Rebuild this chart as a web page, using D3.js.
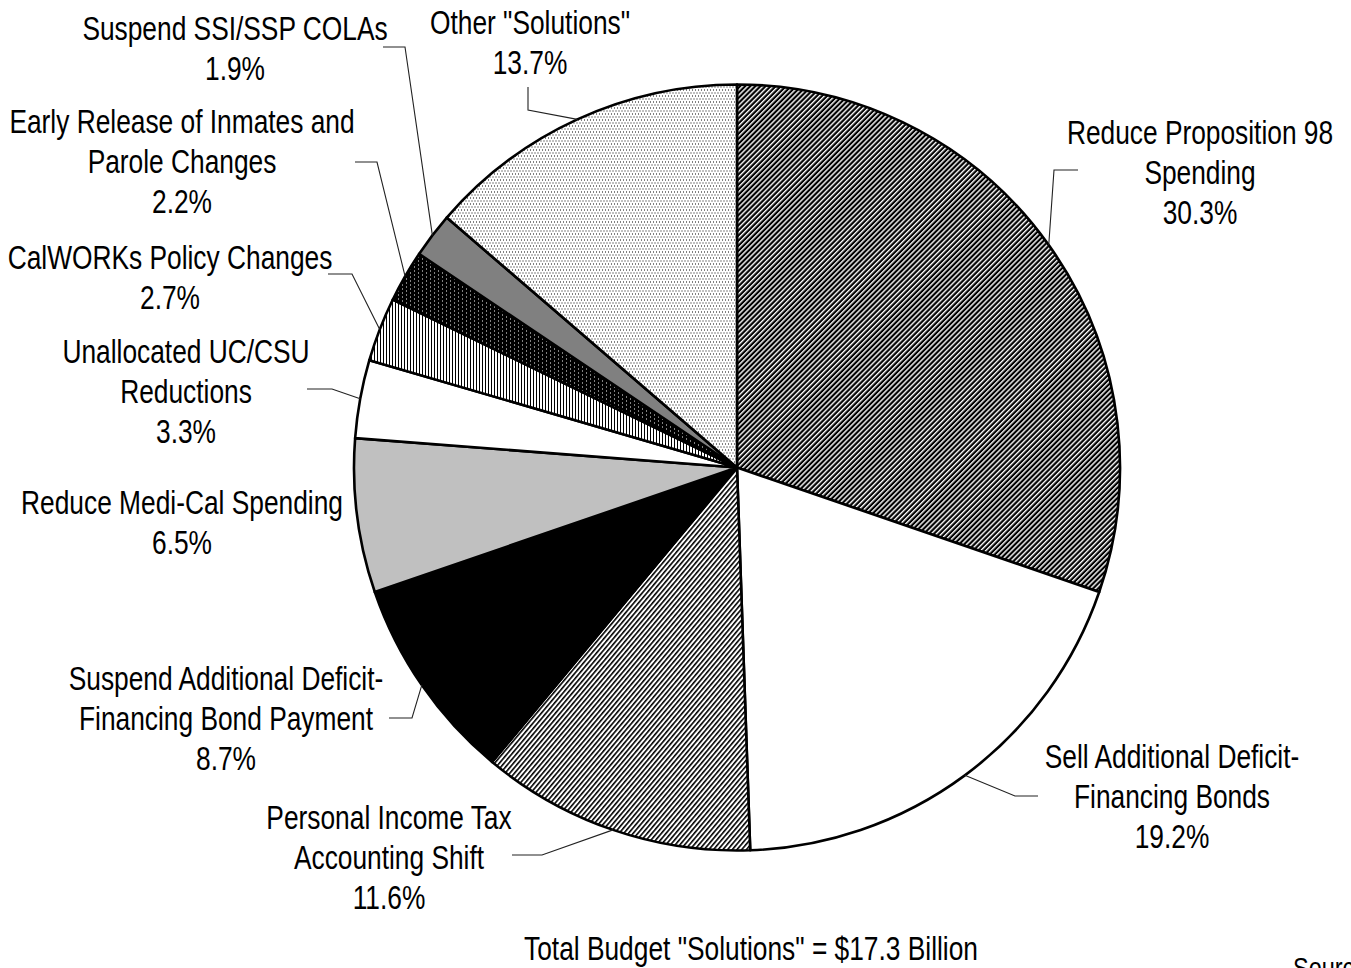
<!DOCTYPE html>
<html>
<head>
<meta charset="utf-8">
<script src="https://cdn.jsdelivr.net/npm/d3@7"></script>
<style>
  html, body { margin: 0; padding: 0; background: #fff; overflow: hidden; }
  svg { display: block; }
  text { font-family: "Liberation Sans", Arial, sans-serif; fill: #000; }
</style>
</head>
<body>
<svg id="chart" width="1351" height="968"></svg>
<script>
// ---- data ----
const categories = [
  "Reduce Proposition 98 Spending",
  "Sell Additional Deficit-Financing Bonds",
  "Personal Income Tax Accounting Shift",
  "Suspend Additional Deficit-Financing Bond Payment",
  "Reduce Medi-Cal Spending",
  "Unallocated UC/CSU Reductions",
  "CalWORKs Policy Changes",
  "Early Release of Inmates and Parole Changes",
  "Suspend SSI/SSP COLAs",
  "Other \"Solutions\""
];
const values = [30.3, 19.2, 11.6, 8.7, 6.5, 3.3, 2.7, 2.2, 1.9, 13.7];
const labelLines = [
  ["Reduce Proposition 98", "Spending"],
  ["Sell Additional Deficit-", "Financing Bonds"],
  ["Personal Income Tax", "Accounting Shift"],
  ["Suspend Additional Deficit-", "Financing Bond Payment"],
  ["Reduce Medi-Cal Spending"],
  ["Unallocated UC/CSU", "Reductions"],
  ["CalWORKs Policy Changes"],
  ["Early Release of Inmates and", "Parole Changes"],
  ["Suspend SSI/SSP COLAs"],
  ["Other \"Solutions\""]
];
const totalText = "Total Budget \"Solutions\" = $17.3 Billion";
const sourceText = "Source:";

// ---- layout (not data) ----
const cx = 737, cy = 467.5, R = 383;
const fills = ["url(#pDiagDark)", "#ffffff", "url(#pDiagLight)", "#000000", "#c0c0c0",
               "#ffffff", "url(#pVert)", "url(#pDotsDark)", "#808080", "url(#pDotsLight)"];
const labelLayout = [
  {x: 1200, y: 132, lead: [[1078,170],[1054,170]]},
  {x: 1172, y: 756, lead: [[1038,796],[1015,796]]},
  {x: 389,  y: 817, lead: [[512,855],[542,855]]},
  {x: 226,  y: 678, lead: [[389,718],[412,718]]},
  {x: 182,  y: 502, lead: null},
  {x: 186,  y: 351, lead: [[307,389],[332,389]]},
  {x: 170,  y: 257, lead: [[328,274],[352,274]]},
  {x: 182,  y: 121, lead: [[355,162],[377,162]]},
  {x: 235,  y: 28,  lead: [[383,47],[405,47]]},
  {x: 530,  y: 22,  lead: [[528,87],[528,110]]}
];
const lineH = 40.3, fontSize = 32.5, narrow = 0.81;

const svg = d3.select("#chart");
const defs = svg.append("defs");

// patterns
const p1 = defs.append("pattern").attr("id","pDiagDark").attr("patternUnits","userSpaceOnUse")
  .attr("width",3.6).attr("height",3.6).attr("patternTransform","rotate(45)");
p1.append("rect").attr("width",3.6).attr("height",3.6).attr("fill","#000");
p1.append("rect").attr("x",0).attr("width",1.4).attr("height",3.6).attr("fill","#fff");

const p2 = defs.append("pattern").attr("id","pDiagLight").attr("patternUnits","userSpaceOnUse")
  .attr("width",3.6).attr("height",3.6).attr("patternTransform","rotate(40)");
p2.append("rect").attr("width",3.6).attr("height",3.6).attr("fill","#fff");
p2.append("rect").attr("x",0).attr("width",1.6).attr("height",3.6).attr("fill","#000");

const p3 = defs.append("pattern").attr("id","pVert").attr("patternUnits","userSpaceOnUse")
  .attr("width",3).attr("height",3);
p3.append("rect").attr("width",3).attr("height",3).attr("fill","#fff");
p3.append("rect").attr("x",0).attr("width",1).attr("height",3).attr("fill","#000");

const p4 = defs.append("pattern").attr("id","pDotsDark").attr("patternUnits","userSpaceOnUse")
  .attr("width",8).attr("height",8);
p4.append("rect").attr("width",8).attr("height",8).attr("fill","#000");
[[1,1],[5,3],[1,5],[5,7]].forEach(([x,y]) =>
  p4.append("rect").attr("x",x).attr("y",y).attr("width",1).attr("height",1).attr("fill","#fff"));

const p5 = defs.append("pattern").attr("id","pDotsLight").attr("patternUnits","userSpaceOnUse")
  .attr("width",6).attr("height",6);
p5.append("rect").attr("width",6).attr("height",6).attr("fill","#fff");
[[0,0],[3,0],[1.5,3],[4.5,3]].forEach(([x,y]) =>
  p5.append("rect").attr("x",x).attr("y",y).attr("width",1).attr("height",1).attr("fill","#000"));

// pie
const pie = d3.pie().sort(null).value(d => d).startAngle(0).endAngle(2*Math.PI);
const arcs = pie(values);
const arc = d3.arc().innerRadius(0).outerRadius(R);

const g = svg.append("g").attr("transform", `translate(${cx},${cy})`);
g.selectAll("path.slice").data(arcs).join("path")
  .attr("class","slice")
  .attr("d", arc)
  .attr("fill", (d,i) => fills[i])
  .attr("stroke", "#000")
  .attr("stroke-width", 2.6)
  .attr("stroke-linejoin", "round");

// leader lines
arcs.forEach((a, i) => {
  const L = labelLayout[i];
  if (!L.lead) return;
  const mid = (a.startAngle + a.endAngle) / 2;
  const ex = cx + R * Math.sin(mid), ey = cy - R * Math.cos(mid);
  svg.append("polyline")
    .attr("points", [L.lead[0], L.lead[1], [ex, ey]].map(p => p.join(",")).join(" "))
    .attr("fill","none").attr("stroke","#222").attr("stroke-width",1.1);
});

// narrow text helper
function narrowText(x, y, lines, size, anchor) {
  const t = svg.append("g").attr("transform", `translate(${x},${y}) scale(${narrow},1)`)
    .append("text")
    .attr("text-anchor", anchor || "middle")
    .attr("font-size", size);
  lines.forEach((s, k) => {
    t.append("tspan").attr("x", 0).attr("y", k*lineH).attr("dy","0.36em").text(s);
  });
  return t;
}

// labels
arcs.forEach((a, i) => {
  const L = labelLayout[i];
  const lines = labelLines[i].concat([d3.format(".1f")(values[i]) + "%"]);
  narrowText(L.x, L.y, lines, fontSize);
});

narrowText(751, 948, [totalText], fontSize);
narrowText(1293, 968, [sourceText], 29, "start");
</script>
</body>
</html>
